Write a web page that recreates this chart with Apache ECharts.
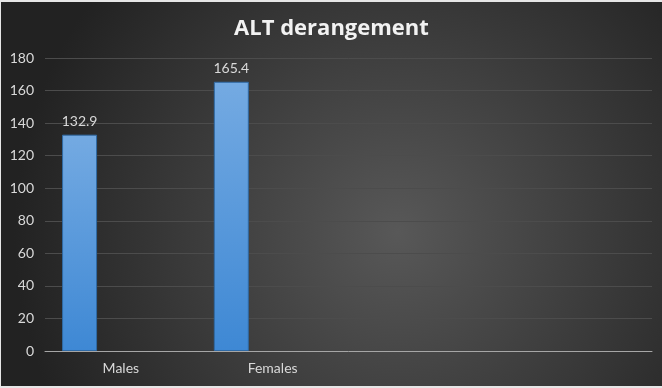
<!DOCTYPE html>
<html>
<head>
<meta charset="utf-8">
<script src="https://cdn.jsdelivr.net/npm/echarts@6/dist/echarts.min.js"></script>
<style>
  html, body { margin: 0; padding: 0; background: #e6e6e6; }
  #chart { position: absolute; left: 1px; top: 2px; width: 661px; height: 384px; }
</style>
</head>
<body>
<div id="chart"></div>
<script>
// categories on the x axis (Excel left two empty slots)
const categories = ['Males', 'Females', '', ''];
const altValues = [132.9, 165.4, null, null];
const yTicks = { min: 0, max: 180, interval: 20 };

const chart = echarts.init(document.getElementById('chart'));

const barColor = {
    type: 'linear', x: 0, y: 0, x2: 0, y2: 1,
    colorStops: [
        { offset: 0, color: '#74aae2' },
        { offset: 1, color: '#3e88d4' }
    ]
};

const option = {
    backgroundColor: {
        type: 'radial', x: 0.6, y: 0.6, r: 1,
        colorStops: [
            { offset: 0, color: '#585858' },
            { offset: 1, color: '#222222' }
        ]
    },
    animation: false,
    title: {
        text: 'ALT derangement',
        left: 'center',
        top: 11,
        textStyle: {
            color: '#f2f2f2',
            fontFamily: 'Open Sans',
            fontWeight: 'bold',
            fontSize: 22
        }
    },
    grid: { left: 44, right: 10, top: 56, bottom: 35 },
    xAxis: {
        type: 'category',
        data: categories,
        axisLine: { lineStyle: { color: '#a6a6a6', width: 1 } },
        axisTick: { show: false },
        axisLabel: { color: '#d9d9d9', fontFamily: 'Lato', fontSize: 14, margin: 10 }
    },
    yAxis: {
        type: 'value',
        min: yTicks.min,
        max: yTicks.max,
        interval: yTicks.interval,
        axisLine: { show: false },
        axisTick: { show: false },
        axisLabel: { color: '#d9d9d9', fontFamily: 'Lato', fontSize: 14, margin: 11 },
        splitLine: { lineStyle: { color: '#4c4c4c', width: 1 } }
    },
    series: [{
        type: 'bar',
        data: altValues,
        barWidth: 35,
        barGap: '18%',
        itemStyle: { color: barColor, borderColor: '#2f6aa5', borderWidth: 1 },
        label: {
            show: true,
            position: 'top',
            distance: 6,
            color: '#d9d9d9',
            fontFamily: 'Lato',
            fontSize: 14
        }
    }, {
        type: 'bar', data: [], barWidth: 35, barGap: '18%'
    }, {
        type: 'bar', data: [], barWidth: 35, barGap: '18%'
    }]
};

chart.setOption(option);
</script>
</body>
</html>
